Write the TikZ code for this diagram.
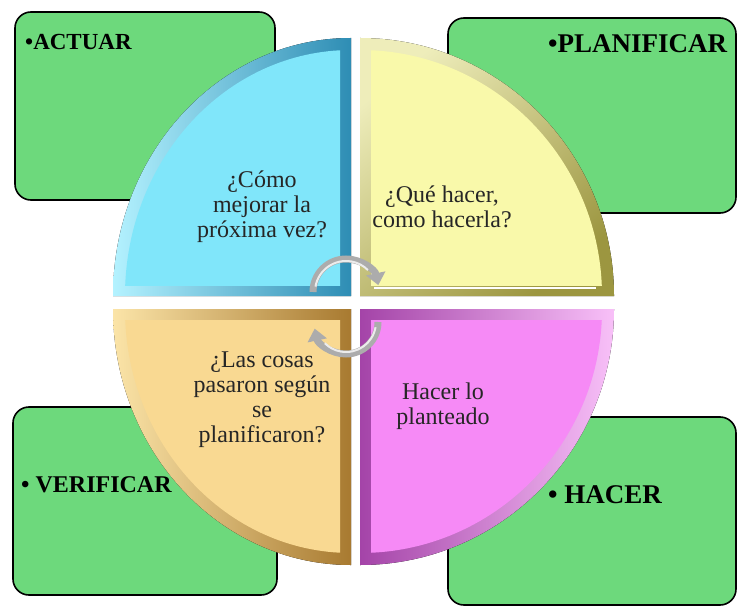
\documentclass[tikz,border=0pt]{standalone}
\usepackage{fontspec}
\setmainfont{Liberation Serif}
\usetikzlibrary{calc, arrows.meta}

\definecolor{boxgreen}{HTML}{6DD97C}
\definecolor{cyanface}{HTML}{80E6FA}
\definecolor{cyanlight}{HTML}{B4F2FF}
\definecolor{cyandark}{HTML}{2E8DB4}
\definecolor{yellowface}{HTML}{F9F9AA}
\definecolor{yellowlight}{HTML}{FCFCD0}
\definecolor{yellowdark}{HTML}{9C9640}
\definecolor{orangeface}{HTML}{F9D992}
\definecolor{orangelight}{HTML}{FBE4A8}
\definecolor{orangedark}{HTML}{A87A30}
\definecolor{pinkface}{HTML}{F68AF6}
\definecolor{pinklight}{HTML}{F8C0F8}
\definecolor{pinkdark}{HTML}{A444A8}

\begin{document}
\begin{tikzpicture}[x=1pt,y=1pt,
  greenbox/.style={fill=boxgreen,draw=black,line width=1.6pt,rounded corners=16pt},
  phase/.style={font=\bfseries,anchor=base west,inner sep=0pt},
  question/.style={font=\fontsize{24}{25}\selectfont,align=center,text=black!85},
  cyclearrow/.style={draw=gray!65,line width=7pt,-{Triangle[length=12pt,width=19pt]}},
  shine/.style={draw=white!85!gray,line width=2pt}]
\useasboundingbox (0,0) rectangle (738,614);
% Green boxes behind the circle
\draw[greenbox] (15,414) rectangle (275,602);
\draw[greenbox] (448,401) rectangle (736,596);
\draw[greenbox] (13,19) rectangle (277,207);
\draw[greenbox] (448,9) rectangle (736,197);
\node[phase,font=\fontsize{23}{25}\selectfont\bfseries] (actuar) at (25,564) {•ACTUAR};
\node[phase,font=\fontsize{27}{29}\selectfont\bfseries] (planificar) at (548,561) {•PLANIFICAR};
\node[phase,font=\fontsize{24}{26}\selectfont\bfseries] (verificar) at (21,122) {• VERIFICAR};
\node[phase,font=\fontsize{27}{29}\selectfont\bfseries] (hacer) at (548,111) {• HACER};
% Corners of the four quarters
\path (351,318) coordinate (qa) (360,318) coordinate (qp)
      (351,305) coordinate (qv) (360,305) coordinate (qh);
% Quarter top left
\fill[left color=cyanlight,right color=cyandark]
  (qa) -- ++(-238,0) arc[start angle=180,end angle=90,x radius=238,y radius=258] -- cycle;
\begin{scope}
\clip ($(qa)+(-11,11)$) rectangle (0,614);
\fill[cyanface] (qa) ellipse[x radius=226,y radius=246];
\end{scope}
% Quarter top right
\fill[top color=yellowlight!85!yellowdark,bottom color=yellowdark,shading angle=40]
  (qp) -- ++(0,258) arc[start angle=90,end angle=0,x radius=254,y radius=258] -- cycle;
\begin{scope}
\clip ($(qp)+(11,11)$) rectangle (738,614);
\fill[yellowface] (qp) ellipse[x radius=242,y radius=246];
\end{scope}
\draw[white,line width=2pt] ($(qp)+(14,8)$) -- ($(qp)+(236,8)$);
% Quarter bottom left
\fill[left color=orangelight,right color=orangedark]
  (qv) -- ++(-238,0) arc[start angle=180,end angle=270,x radius=238,y radius=256] -- cycle;
\begin{scope}
\clip ($(qv)+(-11,-11)$) rectangle (0,0);
\fill[orangeface] (qv) ellipse[x radius=226,y radius=244];
\end{scope}
% Quarter bottom right
\fill[left color=pinkdark,right color=pinklight]
  (qh) -- ++(254,0) arc[start angle=0,end angle=-90,x radius=254,y radius=256] -- cycle;
\begin{scope}
\clip ($(qh)+(11,-11)$) rectangle (738,0);
\fill[pinkface] (qh) ellipse[x radius=242,y radius=244];
\end{scope}
% Questions
\node[question] (mejorar) at (262,407) {¿Cómo\\mejorar la\\próxima vez?};
\node[question] (planear) at (442,407) {¿Qué hacer,\\como hacerla?};
\node[question] (revisar) at (262,214) {¿Las cosas\\pasaron según\\se\\planificaron?};
\node[question] (ejecutar) at (443,208) {Hacer lo\\planteado};
% Cycle arrows in the middle
\coordinate (up) at (346,322);
\coordinate (down) at (346,292);
\draw[cyclearrow] ($(up)+(180:33)$) arc[start angle=180,end angle=12,radius=33];
\draw[shine] ($(up)+(170:31)$) arc[start angle=170,end angle=45,radius=31];
\draw[cyclearrow] ($(down)+(0:32)$) arc[start angle=0,end angle=-168,radius=32];
\draw[shine] ($(down)+(-10:30)$) arc[start angle=-10,end angle=-135,radius=30];
\end{tikzpicture}
\end{document}
